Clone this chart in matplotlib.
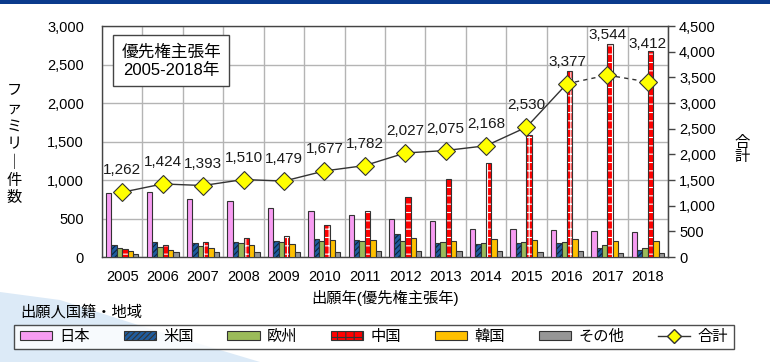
import numpy as np
import matplotlib
matplotlib.use('Agg')
import matplotlib.pyplot as plt
from matplotlib.patches import Rectangle, Polygon

plt.rcParams['font.family'] = ['Liberation Sans', 'Noto Sans CJK JP', 'DejaVu Sans']
plt.rcParams['hatch.linewidth'] = 0.8

# data (families per priority year)
years = ['2005', '2006', '2007', '2008', '2009', '2010', '2011',
         '2012', '2013', '2014', '2015', '2016', '2017', '2018']
japan = [830, 850, 760, 730, 640, 600, 540, 500, 465, 360, 360, 350, 338, 320]
usa = [150, 195, 178, 190, 204, 230, 220, 300, 178, 170, 186, 186, 113, 87]
europe = [112, 126, 143, 178, 191, 204, 204, 204, 191, 182, 195, 195, 152, 117]
china = [100, 152, 191, 247, 269, 412, 598, 776, 1010, 1218, 1582, 2422, 2765, 2682]
korea = [74, 87, 117, 152, 165, 217, 221, 243, 204, 234, 221, 234, 208, 208]
other = [39, 61, 61, 61, 61, 61, 74, 78, 74, 78, 61, 78, 48, 52]
total = [1262, 1424, 1393, 1510, 1479, 1677, 1782, 2027, 2075, 2168, 2530, 3377, 3544, 3412]

series_names = ['日本', '米国', '欧州', '中国', '韓国', 'その他']
series_vals = [japan, usa, europe, china, korea, other]
face = ['#F79CF2', '#1F5C9E', '#9BBB59', '#FF0000', '#FFC000', '#969696']
hatch = [None, '//////', None, '++', None, None]
hatch_col = [None, '#0B2340', None, 'white', None, None]

# label offsets (px above the marker) - the last two sit above the China bars
label_off = [22, 22, 22, 22, 22, 22, 22, 22, 22, 22, 22, 22, 40, 38]

fig = plt.figure(figsize=(7.7, 3.62), dpi=100)
ax = fig.add_axes([0.1325, 0.29, 0.735, 0.638])
ax2 = ax.twinx()

x = np.arange(len(years))
w = 0.133
for i, (name, vals) in enumerate(zip(series_names, series_vals)):
    pos = x + (i - 2.5) * w
    if hatch[i]:
        ax.bar(pos, vals, w, color=face[i], hatch=hatch[i], edgecolor=hatch_col[i],
               linewidth=0, zorder=3)
    ax.bar(pos, vals, w, facecolor=face[i] if not hatch[i] else 'none',
           edgecolor='#333333', linewidth=0.8, zorder=3, label=name)

ax.set_xlim(-0.5, len(years) - 0.5)
ax.set_ylim(0, 3000)
ax.set_yticks(np.arange(0, 3001, 500))
ax.set_yticklabels([f'{v:,}' for v in range(0, 3001, 500)], fontsize=10.5)
ax.set_xticks(x)
ax.set_xticklabels(years, fontsize=10.5)
ax.tick_params(axis='y', length=0, pad=13)
ax.tick_params(axis='x', length=0, pad=9)
ax.set_xticks(np.arange(-0.5, len(years), 1), minor=True)
ax.tick_params(axis='x', which='minor', length=0)
ax.grid(True, axis='y', color='#B4B4B4', linewidth=1, zorder=0)
ax.grid(True, axis='x', which='minor', color='#B4B4B4', linewidth=1, zorder=0)
ax.grid(False, axis='x', which='major')
ax.set_axisbelow(True)
for s in ax.spines.values():
    s.set_color('#444444')
    s.set_linewidth(1)

# total line on right axis: solid up to 2016, dashed after
ax2.plot(x[:12], total[:12], color='#333333', linewidth=1, zorder=4)
ax2.plot(x[11:], total[11:], color='#333333', linewidth=1, linestyle=(0, (3, 3)), zorder=4)
ax2.plot(x, total, linestyle='none', marker='D', markersize=9, markerfacecolor='#FFFF00',
         markeredgecolor='#333333', markeredgewidth=0.8, zorder=5)
for xi, t, off in zip(x, total, label_off):
    ax2.annotate(f'{t:,}', (xi, t), xytext=(0, off * 0.72), textcoords='offset points',
                 ha='center', va='center', fontsize=11, color='#1a1a1a')
ax2.set_ylim(0, 4500)
ax2.set_yticks(np.arange(0, 4501, 500))
ax2.set_yticklabels([f'{v:,}' for v in range(0, 4501, 500)], fontsize=10.5)
ax2.tick_params(axis='y', length=5, width=1, color='#444444', pad=3)
for s in ax2.spines.values():
    s.set_visible(False)
ax2.spines['right'].set_visible(True)
ax2.spines['right'].set_color('#444444')
ax.set_zorder(1)
ax2.set_zorder(2)
ax2.patch.set_visible(False)

# axis titles
fig.text(14 / 770, 1 - 145 / 362, '\n'.join('ファミリ｜件数'), ha='center', va='center',
         fontsize=11, linespacing=1.32)
fig.text(742 / 770, 1 - 150 / 362, '合\n計', ha='center', va='center', fontsize=11,
         linespacing=1.05)
fig.text(385 / 770, 1 - 298 / 362, '出願年(優先権主張年)', ha='center', va='center', fontsize=11)
fig.text(20 / 770, 1 - 312 / 362, '出願人国籍・地域', ha='left', va='center', fontsize=11)

# box with period
ax.text(0.122, 0.85, '優先権主張年\n2005-2018年', transform=ax.transAxes, ha='center',
        va='center', fontsize=12, linespacing=1.3, zorder=6,
        bbox=dict(boxstyle='square,pad=0.5', facecolor='white', edgecolor='#444444',
                  linewidth=1))

# decoration: top navy band and faint swoosh bottom-left
fig.patches.append(Rectangle((0, 1 - 4 / 362), 1, 4 / 362, transform=fig.transFigure,
                             facecolor='#0A3A8C', edgecolor='none', zorder=0))
fig.patches.append(Polygon([(0, 0), (0, 70 / 362), (60 / 770, 62 / 362), (160 / 770, 30 / 362),
                            (260 / 770, 0)], closed=True, transform=fig.transFigure,
                           facecolor='#DCEAF7', edgecolor='none', zorder=0))

# legend
hl = []
for i in range(6):
    r = Rectangle((0, 0), 1, 1, facecolor=face[i], edgecolor='#333333', linewidth=0.8,
                  hatch=hatch[i])
    hl.append(r)
line_h, = ax2.plot([], [], color='#333333', linewidth=1, marker='D', markersize=7,
                   markerfacecolor='#FFFF00', markeredgecolor='#333333')
leg = fig.legend(hl + [line_h], series_names + ['合計'], loc='center',
                 bbox_to_anchor=(374 / 770, 1 - 337 / 362), ncol=7, fontsize=11,
                 frameon=True, fancybox=False, edgecolor='#222222', handlelength=2.1,
                 handleheight=0.5, columnspacing=2.2, handletextpad=0.5,
                 borderpad=0.35, borderaxespad=0)
leg.get_frame().set_linewidth(1)

fig.savefig('out.png', dpi=100)
